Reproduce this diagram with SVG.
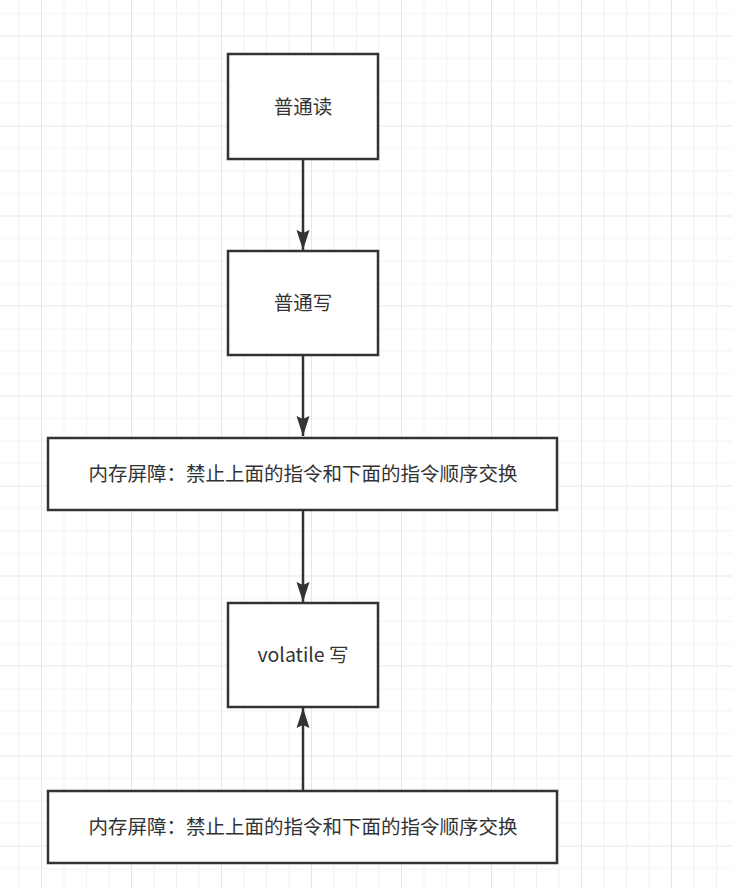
<svg xmlns="http://www.w3.org/2000/svg" width="732" height="888" viewBox="0 0 732 888">
<style>
.box{fill:#ffffff;stroke:#333333;stroke-width:2.5}
.lbl{font-family:"Microsoft YaHei","Noto Sans CJK SC","Noto Sans",sans-serif;font-size:19.5px;fill:#333333;text-anchor:middle}
.edge{stroke:#333333;stroke-width:2.5;fill:none}
</style>
<defs>
<pattern id="grid" patternUnits="userSpaceOnUse" x="41" y="35.5" width="90" height="90">
<rect width="90" height="90" fill="#ffffff"/>
<g stroke="#f1f1f1" stroke-width="1">
<line x1="23" y1="0" x2="23" y2="90"/>
<line x1="45.5" y1="0" x2="45.5" y2="90"/>
<line x1="68" y1="0" x2="68" y2="90"/>
<line x1="0" y1="23" x2="90" y2="23"/>
<line x1="0" y1="45.5" x2="90" y2="45.5"/>
<line x1="0" y1="68" x2="90" y2="68"/>
</g>
<g stroke="#e6e6e6" stroke-width="1">
<line x1="0.5" y1="0" x2="0.5" y2="90"/>
<line x1="0" y1="0.5" x2="90" y2="0.5"/>
</g>
</pattern>
<marker id="arrow" viewBox="0 0 20 14" refX="20" refY="7" markerWidth="20" markerHeight="14" markerUnits="userSpaceOnUse" orient="auto">
<path d="M0,0.5 L20,7 L0,13.5 L3,7 Z" fill="#333333"/>
</marker>
</defs>
<rect width="732" height="888" fill="url(#grid)"/>
<g id="connectors">
<line class="edge" x1="303" y1="159" x2="303" y2="250" marker-end="url(#arrow)"/>
<line class="edge" x1="303" y1="355" x2="303" y2="436" marker-end="url(#arrow)"/>
<line class="edge" x1="303" y1="510" x2="303" y2="602" marker-end="url(#arrow)"/>
<line class="edge" x1="303" y1="791" x2="303" y2="708" marker-end="url(#arrow)"/>
</g>
<g id="node1">
<rect class="box" x="228" y="54" width="150" height="105"/>
<text class="lbl" x="303" y="113.5">普通读</text>
</g>
<g id="node2">
<rect class="box" x="228" y="251" width="150" height="104"/>
<text class="lbl" x="303" y="309.5">普通写</text>
</g>
<g id="node3">
<rect class="box" x="48" y="438" width="509" height="72"/>
<text class="lbl" x="303" y="480.5">内存屏障：禁止上面的指令和下面的指令顺序交换</text>
</g>
<g id="node4">
<rect class="box" x="228" y="603" width="150" height="104"/>
<text class="lbl" x="303" y="662">volatile 写</text>
</g>
<g id="node5">
<rect class="box" x="48" y="791" width="509" height="72"/>
<text class="lbl" x="303" y="833.5">内存屏障：禁止上面的指令和下面的指令顺序交换</text>
</g>
</svg>
